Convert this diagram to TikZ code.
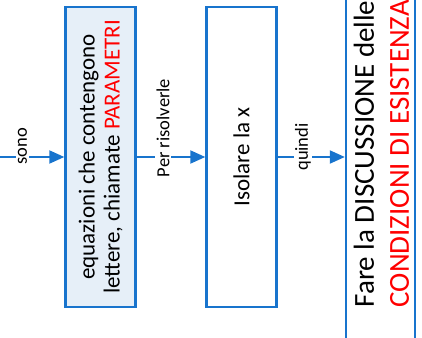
\documentclass[tikz,border=0pt]{standalone}
\usepackage{fontspec}
\setmainfont{Carlito}
\usetikzlibrary{arrows.meta}
\definecolor{bblue}{HTML}{1874CD}
\definecolor{lblue}{HTML}{E6EFF8}
\definecolor{rred}{HTML}{FF0000}
\tikzset{
  box/.style={draw=bblue, line width=2.4pt, rotate=90, minimum width=300pt, minimum height=70pt, inner sep=0pt, align=center, font=\fontsize{23}{25}\selectfont},
  conn/.style={draw=bblue, line width=2pt, -{Triangle[length=15pt,width=13pt]}},
  lbl/.style={rotate=90, fill=white, inner sep=1.5pt, font=\fontsize{18.5}{20}\selectfont}
}
\begin{document}
\begin{tikzpicture}[x=1pt,y=-1pt]
\useasboundingbox (0,0) rectangle (422,337);
\clip (0,0) rectangle (422,337);
\node[box, fill=lblue] (b1) at (100.5,157) {equazioni che contengono\\lettere, chiamate \textcolor{rred}{PARAMETRI}};
\node[box, fill=white] (b2) at (241.5,157) {Isolare la x};
\node[draw=bblue, line width=2.4pt, minimum width=69pt, minimum height=380pt, inner sep=0pt] (b3) at (380.5,168) {};
\node[rotate=90, anchor=west, align=left, inner sep=0pt, font=\fontsize{29}{35}\selectfont] (t3) at (381.5,307.5) {Fare la DISCUSSIONE delle\\\textcolor{rred}{CONDIZIONI DI ESISTENZA}};
\coordinate (start) at (-5,157);
\draw[conn] (start) -- (b1.north);
\draw[conn] (b1.south) -- (b2.north);
\draw[conn] (b2.south) -- (b3.west |- b2.south);
\node[lbl] (l1) at (22.5,146) {sono};
\node[lbl] (l2) at (163,128) {Per risolverle};
\node[lbl] (l3) at (303,147) {quindi};
\end{tikzpicture}
\end{document}
